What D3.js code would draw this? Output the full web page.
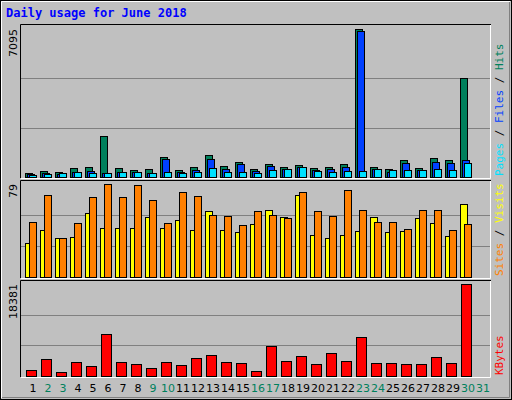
<!DOCTYPE html>
<html><head><meta charset="utf-8">
<script src="https://cdn.jsdelivr.net/npm/d3@7"></script>
<style>body{margin:0;background:#fff}svg{display:block}</style>
</head><body>
<svg id="chart" width="512" height="400"></svg>
<script>
// June 2018 daily figures
const days = d3.range(1, 32)
const weekend = [2, 3, 9, 10, 16, 17, 23, 24, 30, 31]
const hits = [206,273,225,417,465,1980,417,321,369,944,321,465,1040,513,705,369,609,465,561,417,465,609,7095,465,369,801,417,896,801,4732,0]
const files = [144,192,158,254,302,206,254,225,206,849,225,321,849,369,609,273,513,369,465,321,369,465,6985,369,225,657,321,705,657,801,0]
const pages = [82,129,177,254,177,177,254,225,177,254,177,254,417,254,225,177,321,369,465,273,225,273,273,369,321,321,321,369,321,657,0]
const sites = [29,40,33,34,54,42,42,42,51,42,48,40,56,40,38,45,57,51,70,36,33,36,39,51,38,39,50,46,35,62,0]
const visits = [47,70,33,46,68,79,68,78,65,46,72,69,53,52,44,56,53,50,72,56,52,74,57,47,47,41,57,57,40,45,0]
const kbytes = [1268,3483,866,2879,2073,8314,2879,2476,1671,2879,2275,3684,4288,2879,2677,1067,5898,3080,4087,2476,4690,3080,7710,2677,2677,2476,2476,3885,2677,18381,0]

const svg = d3.select("#chart")
const mono = "'DejaVu Sans Mono', monospace"

// outer frame
svg.append("rect").attr("width", 512).attr("height", 400).attr("fill", "#c0c0c0")
svg.append("rect").attr("x", 0.5).attr("y", 0.5).attr("width", 511).attr("height", 399).attr("fill", "none").attr("stroke", "#000")
svg.append("path").attr("d", "M1.5,398V1.5H510").attr("fill", "none").attr("stroke", "#fff")
svg.append("path").attr("d", "M2,397.5H509.5V2").attr("fill", "none").attr("stroke", "#808080")

svg.append("text").attr("x", 6).attr("y", 17).text("Daily usage for June 2018")
    .attr("font-family", mono).attr("font-weight", "bold").attr("font-size", 12).attr("fill", "#0000ff")

const x = d3.scaleBand().domain(days).range([25, 490]).paddingInner(0).paddingOuter(0)
x.range([25, 25 + 15 * 31])

function panel(y0, y1, top, max, label, names) {
    // sunken box
    svg.append("path").attr("d", `M20.5,${y1}V${y0 + 0.5}H491`).attr("fill", "none").attr("stroke", "#000")
    svg.append("path").attr("d", `M21,${y1 + 0.5}H490.5V${y0 + 1}`).attr("fill", "none").attr("stroke", "#fff")
    const y = d3.scaleLinear().domain([0, max]).range([y1 - 1, top])
    const g = svg.append("g")
    ;[1 / 3, 2 / 3].forEach(f => {
        g.append("line").attr("x1", 21).attr("x2", 490).attr("y1", Math.round(y(max * f)) + 0.5).attr("y2", Math.round(y(max * f)) + 0.5)
            .attr("stroke", "#808080")
    })
    svg.append("text").attr("transform", `translate(17,${top}) rotate(-90)`).attr("text-anchor", "end")
        .attr("font-family", "'DejaVu Sans', sans-serif").attr("font-size", 11).text(label)
    // right side legend, stacked bottom to top
    const t = svg.append("text").attr("transform", `translate(503,${y1 - 2}) rotate(-90)`)
        .attr("font-family", mono).attr("font-size", 11)
    names.forEach((n, i) => {
        if (i > 0) t.append("tspan").attr("fill", "#000").text(" / ")
        t.append("tspan").attr("fill", n[1]).text(n[0])
    })
    return y
}

function bars(y, data, off, w, color) {
    svg.append("g").selectAll("rect").data(data).join("rect")
        .filter(d => d > 0)
        .attr("x", (d, i) => x(days[data.indexOf(d) >= 0 ? 0 : 0]))
    svg.selectAll(null)
}

function drawBars(y, data, off, w, color) {
    svg.append("g").selectAll("rect")
        .data(data.map((v, i) => ({ v, d: days[i] })).filter(o => o.v > 0))
        .join("rect")
        .attr("x", o => x(o.d) + off + 0.5)
        .attr("y", o => Math.round(y(o.v)) + 0.5)
        .attr("width", w)
        .attr("height", o => y(0) - Math.round(y(o.v)))
        .attr("fill", color).attr("stroke", "#000")
}

const y1 = panel(24, 178, 29, 7095, "7095", [["Pages", "#00e0ff"], ["Files", "#0040ff"], ["Hits", "#00805c"]])
drawBars(y1, hits, 0, 7, "#00805c")
drawBars(y1, files, 2, 7, "#0040ff")
drawBars(y1, pages, 4, 7, "#00e0ff")

const y2 = panel(180, 278, 184, 79, "79", [["Sites", "#ff8000"], ["Visits", "#ffff00"]])
drawBars(y2, sites, 0, 7, "#ffff00")
drawBars(y2, visits, 4, 7, "#ff8000")

const y3 = panel(280, 377, 284, 18381, "18381", [["KBytes", "#ff0000"]])
drawBars(y3, kbytes, 1, 10, "#ff0000")

// day labels
svg.append("g").selectAll("text").data(days).join("text")
    .attr("x", d => x(d) + 8).attr("y", 392).attr("text-anchor", "middle")
    .attr("font-family", "'DejaVu Sans', sans-serif").attr("font-size", 11)
    .attr("fill", d => weekend.includes(d) ? "#00805c" : "#000")
    .text(d => d)
</script>
</body></html>
